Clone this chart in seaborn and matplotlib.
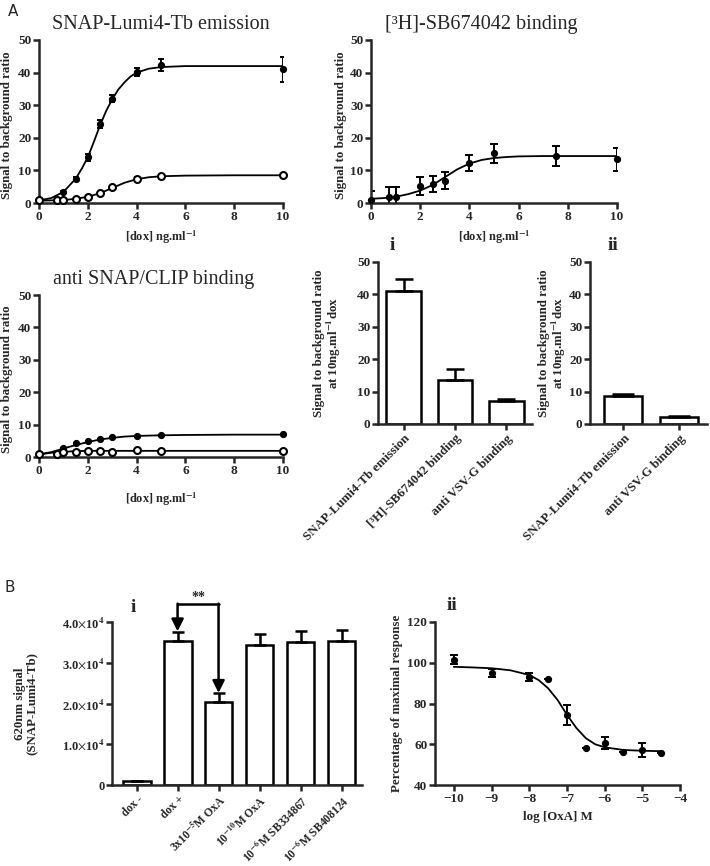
import numpy as np
import matplotlib
matplotlib.use('Agg')
import matplotlib.pyplot as plt
import seaborn as sns
from matplotlib.ticker import FuncFormatter

sns.set_style('ticks')
plt.rcParams['font.family'] = ['Liberation Serif', 'DejaVu Serif']
plt.rcParams['mathtext.fontset'] = 'stix'
plt.rcParams['axes.linewidth'] = 1.8
plt.rcParams['xtick.major.width'] = 1.8
plt.rcParams['ytick.major.width'] = 1.8
plt.rcParams['xtick.major.size'] = 4
plt.rcParams['ytick.major.size'] = 4
plt.rcParams['xtick.major.pad'] = 2
plt.rcParams['ytick.major.pad'] = 1.5

# ---------------- data: panel A, SNAP-Lumi4-Tb emission ----------------
a1_x_fill = [0, 1, 1.5, 2, 2.5, 3, 4, 5, 10]
a1_y_fill = [1.0, 3.4, 7.5, 14.0, 24.2, 32.0, 40.3, 42.3, 41.0]
a1_e_fill = [0.3, 0.3, 0.4, 1.0, 1.2, 1.0, 1.2, 1.8, 3.8]
a1_x_open = [0, 0.75, 1, 1.5, 2, 2.5, 3, 4, 5, 10]
a1_y_open = [1.0, 1.0, 1.0, 1.2, 1.8, 3.0, 5.0, 7.5, 8.2, 8.5]
a1_e_open = [0.2, 0.2, 0.2, 0.2, 0.2, 0.3, 0.3, 0.4, 0.5, 0.3]
a1_cx_fill = [0, 0.5, 1, 1.5, 1.75, 2, 2.25, 2.5, 2.75, 3, 3.25, 3.5, 3.75, 4, 4.5, 5, 6, 8, 10]
a1_cy_fill = [0.8, 1.5, 3.4, 7.4, 10.5, 14.0, 18.8, 23.8, 28.2, 31.8, 34.8, 37.0, 38.8, 40.0, 41.2, 41.7, 42.0, 42.0, 42.0]
a1_cx_open = [0, 0.5, 1, 1.5, 2, 2.5, 3, 3.5, 4, 4.5, 5, 6, 8, 10]
a1_cy_open = [0.7, 0.8, 0.9, 1.3, 1.9, 3.0, 4.6, 6.2, 7.3, 7.9, 8.2, 8.4, 8.5, 8.5]

# ---------------- data: panel A, [3H]-SB674042 binding ----------------
a2_x = [0, 0.75, 1, 2, 2.5, 3, 4, 5, 7.5, 10]
a2_y = [0.8, 1.9, 1.9, 5.3, 5.9, 6.9, 12.3, 15.2, 14.3, 13.4]
a2_e = [3.0, 2.9, 2.9, 2.8, 2.5, 2.6, 2.4, 2.9, 3.1, 3.6]
a2_cx = [0, 0.5, 1, 1.5, 2, 2.5, 3, 3.5, 4, 4.5, 5, 5.5, 6, 7, 8, 10]
a2_cy = [1.3, 1.5, 1.9, 2.7, 3.8, 5.5, 7.9, 10.3, 12.1, 13.2, 13.8, 14.1, 14.3, 14.4, 14.4, 14.4]

# ---------------- data: panel A, anti SNAP/CLIP binding ----------------
a3_x = [0, 0.75, 1, 1.5, 2, 2.5, 3, 4, 5, 10]
a3_y_fill = [0.8, 0.6, 2.9, 4.3, 4.9, 5.5, 6.3, 6.5, 6.8, 7.1]
a3_y_open = [0.8, 1.0, 1.4, 1.5, 1.7, 1.8, 1.6, 2.1, 2.0, 1.9]
a3_cx = [0, 0.5, 1, 1.5, 2, 2.5, 3, 3.5, 4, 5, 6, 8, 10]
a3_cy_fill = [0.8, 1.5, 2.6, 3.7, 4.6, 5.4, 5.9, 6.3, 6.5, 6.7, 6.8, 6.9, 6.9]
a3_cy_open = [0.8, 1.3, 1.6, 1.8, 1.9, 1.9, 1.9, 1.9, 1.9, 1.9, 1.9, 1.9, 1.9]

# ---------------- data: panel A, bars at 10 ng/ml dox ----------------
ai_labels = ['SNAP-Lumi4-Tb emission', '[\u00b3H]-SB674042 binding', 'anti VSV-G binding']
ai_vals = [41.1, 13.5, 7.2]
ai_errs = [3.6, 3.4, 0.4]
aii_labels = ['SNAP-Lumi4-Tb emission', 'anti VSV-G binding']
aii_vals = [8.7, 2.3]
aii_errs = [0.5, 0.2]

# ---------------- data: panel B ----------------
bi_labels = ['dox -', 'dox +', r'3x10$^{\mathbf{-5}}$M OxA', r'10$^{\mathbf{-10}}$M OxA',
             r'10$^{\mathbf{-6}}$M SB334867', r'10$^{\mathbf{-6}}$M SB408124']
bi_vals = [1000, 35400, 20300, 34300, 35200, 35400]
bi_errs = [0, 2200, 2200, 2700, 2500, 2600]

bii_x = [-10, -9, -8, -7.5, -7, -6.5, -6, -5.5, -5, -4.5]
bii_y = [101.5, 94.9, 92.9, 92.0, 74.4, 58.0, 60.5, 56.2, 57.2, 55.6]
bii_e = [2.1, 2.0, 2.0, 0, 5.0, 0, 2.9, 0, 3.5, 0]
bii_cx = [-10, -9.5, -9, -8.5, -8, -7.75, -7.5, -7.25, -7, -6.75, -6.5, -6.25, -6, -5.5, -5, -4.5]
bii_cy = [98.0, 97.7, 97.3, 96.3, 94.0, 91.5, 87.5, 81.8, 74.5, 68.0, 63.0, 60.0, 58.5, 57.2, 56.8, 56.6]

TICK_FS = 9.5
LAB_FS = 9.3
TITLE_FS = 14.5

W, H = 710, 866
fig = plt.figure(figsize=(W / 100, H / 100), dpi=100)


def add_ax(left, top, right, bottom):
    return fig.add_axes([left / W, 1 - bottom / H, (right - left) / W, (bottom - top) / H])


def style_ax(ax):
    sns.despine(ax=ax)
    for lab in ax.get_xticklabels() + ax.get_yticklabels():
        lab.set_fontweight('bold')
        lab.set_fontsize(TICK_FS)


def points(ax, x, y, err, open_marker=False, cap=2.5):
    ax.errorbar(x, y, yerr=err, fmt='none', ecolor='black', elinewidth=1.4,
                capsize=cap, capthick=1.4)
    if open_marker:
        ax.plot(x, y, 'o', ms=5, mfc='white', mec='black', mew=1.5, clip_on=False, zorder=4)
    else:
        ax.plot(x, y, 'o', ms=4.2, color='black', clip_on=False, zorder=4)


def curve(ax, x, y):
    sns.lineplot(x=x, y=y, ax=ax, color='black', lw=1.3, zorder=3)


def dose_axes(ax, title, title_x=0.5):
    ax.set_xlim(0, 10)
    ax.set_ylim(0, 50)
    ax.set_xticks(range(0, 11, 2))
    ax.set_yticks(range(0, 51, 10))
    ax.set_title(title, fontsize=TITLE_FS, x=title_x, pad=8)
    ax.set_ylabel('Signal to background ratio', fontsize=LAB_FS, fontweight='bold')
    ax.set_xlabel(r'[dox] ng.ml$^{\mathbf{-1}}$', fontsize=LAB_FS - 0.5, fontweight='bold')
    style_ax(ax)


# A1
ax1 = add_ax(39, 40, 283, 203)
curve(ax1, a1_cx_fill, a1_cy_fill)
curve(ax1, a1_cx_open, a1_cy_open)
points(ax1, a1_x_fill, a1_y_fill, a1_e_fill)
points(ax1, a1_x_open, a1_y_open, a1_e_open, open_marker=True)
dose_axes(ax1, 'SNAP-Lumi4-Tb emission')
ax1.yaxis.set_label_coords(-0.105, 0.48)
ax1.xaxis.set_label_coords(0.5, -0.16)

# A2
ax2 = add_ax(371, 40, 617, 203)
curve(ax2, a2_cx, a2_cy)
points(ax2, a2_x, a2_y, a2_e, cap=3)
dose_axes(ax2, '[\u00b3H]-SB674042 binding', title_x=0.45)
ax2.yaxis.set_label_coords(-0.098, 0.48)
ax2.xaxis.set_label_coords(0.5, -0.16)

# A3
ax3 = add_ax(39, 295, 283, 457)
curve(ax3, a3_cx, a3_cy_fill)
curve(ax3, a3_cx, a3_cy_open)
points(ax3, a3_x, a3_y_fill, [0] * len(a3_x))
points(ax3, a3_x, a3_y_open, [0] * len(a3_x), open_marker=True)
dose_axes(ax3, 'anti SNAP/CLIP binding', title_x=0.47)
ax3.yaxis.set_label_coords(-0.105, 0.48)
ax3.xaxis.set_label_coords(0.5, -0.21)


def bar_panel(ax, labels, vals, errs, cap, width):
    sns.barplot(x=list(range(len(vals))), y=vals, ax=ax, color='white', edgecolor='black',
                linewidth=1.8, width=width, errorbar=None, saturation=1)
    ax.errorbar(range(len(vals)), vals, yerr=[np.zeros(len(vals)), errs], fmt='none',
                ecolor='black', elinewidth=1.8, capsize=cap, capthick=1.8)
    ax.set_xticks(range(len(vals)))
    ax.set_xticklabels(labels, rotation=45, ha='right', rotation_mode='anchor')


ylab_10 = 'Signal to background ratio\n' + r'at 10ng.ml$^{\mathbf{-1}}$dox'

# A i
ax4 = add_ax(378, 262, 532, 424)
bar_panel(ax4, ai_labels, ai_vals, ai_errs, cap=6.5, width=0.67)
ax4.set_xlim(-0.5, 2.5)
ax4.set_ylim(0, 50)
ax4.set_yticks(range(0, 51, 10))
ax4.set_ylabel(ylab_10, fontsize=LAB_FS, fontweight='bold', linespacing=1.0)
ax4.yaxis.set_label_coords(-0.227, 0.5)
style_ax(ax4)
for lab in ax4.get_xticklabels():
    lab.set_fontsize(LAB_FS)

# A ii
ax5 = add_ax(590, 262, 707, 424)
bar_panel(ax5, aii_labels, aii_vals, aii_errs, cap=8, width=0.68)
ax5.set_xlim(-0.6, 1.5)
ax5.set_ylim(0, 50)
ax5.set_yticks(range(0, 51, 10))
ax5.set_ylabel(ylab_10, fontsize=LAB_FS, fontweight='bold', linespacing=1.0)
ax5.yaxis.set_label_coords(-0.188, 0.5)
style_ax(ax5)
for lab in ax5.get_xticklabels():
    lab.set_fontsize(LAB_FS)

# B i
ax6 = add_ax(112, 622, 362, 785)
bar_panel(ax6, bi_labels, bi_vals, bi_errs, cap=4.5, width=0.68)
ax6.set_xlim(-0.6, 5.5)
ax6.set_ylim(0, 40000)
ax6.set_yticks(range(0, 40001, 10000))
ax6.yaxis.set_major_formatter(FuncFormatter(
    lambda v, p: '0' if v == 0 else r'%.1f$\times$10$^{\mathbf{4}}$' % (v / 1e4)))
ax6.set_ylabel('620nm signal\n(SNAP-Lumi4-Tb)', fontsize=LAB_FS, fontweight='bold', linespacing=1.0)
ax6.yaxis.set_label_coords(-0.296, 0.5)
style_ax(ax6)
for lab in ax6.get_xticklabels():
    lab.set_fontsize(8.3)
for lab in ax6.get_yticklabels():
    lab.set_fontsize(TICK_FS - 0.5)

# significance bracket with arrows
sig_y = 44300
ax6.plot([1, 2], [sig_y, sig_y], color='black', lw=1.8, clip_on=False)
for xa, ya in [(1, 37700), (2, 22600)]:
    ax6.annotate('', xy=(xa, ya), xytext=(xa, sig_y + 200), annotation_clip=False,
                 arrowprops=dict(arrowstyle='-|>', color='black', lw=1.8, mutation_scale=18,
                                 shrinkA=0, shrinkB=0))
ax6.text(1.5, sig_y + 150, '**', ha='center', va='bottom', fontsize=10, fontweight='bold')

# B ii
ax7 = add_ax(435, 622, 680, 785)
curve(ax7, bii_cx, bii_cy)
points(ax7, bii_x, bii_y, bii_e, cap=3)
ax7.set_xlim(-10.5, -4)
ax7.set_ylim(40, 120)
ax7.set_xticks(range(-10, -3))
ax7.set_yticks(range(40, 121, 20))
ax7.set_xlabel('log [OxA] M', fontsize=LAB_FS, fontweight='bold')
ax7.set_ylabel('Percentage of maximal response', fontsize=LAB_FS, fontweight='bold')
ax7.yaxis.set_label_coords(-0.13, 0.5)
ax7.xaxis.set_label_coords(0.5, -0.16)
style_ax(ax7)

# panel letters
fig.text(8 / W, 1 - 12 / H, 'A', fontsize=11, family='DejaVu Sans', va='center', ha='left')
fig.text(5 / W, 1 - 588 / H, 'B', fontsize=11, family='DejaVu Sans', va='center', ha='left')
for txt, x, y in [('i', 392, 245), ('ii', 613, 245), ('i', 133, 607), ('ii', 452, 605)]:
    fig.text(x / W, 1 - y / H, txt, fontsize=14, fontweight='bold', ha='center', va='center')

fig.savefig('out.png', dpi=100)
